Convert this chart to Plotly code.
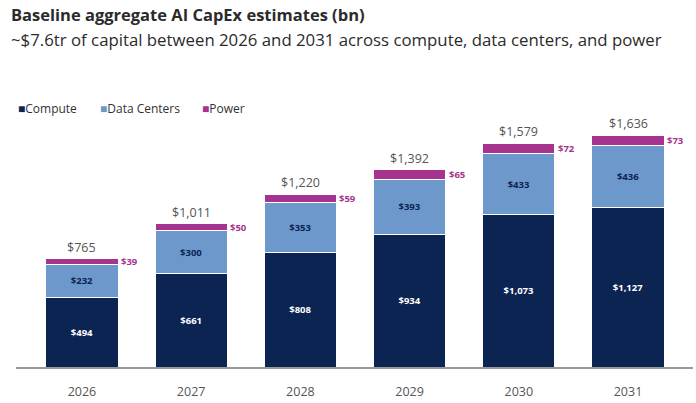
import plotly.graph_objects as go

years = ["2026", "2027", "2028", "2029", "2030", "2031"]
compute = [494, 661, 808, 934, 1073, 1127]
data_centers = [232, 300, 353, 393, 433, 436]
power = [39, 50, 59, 65, 72, 73]
totals = [765, 1011, 1220, 1392, 1579, 1636]
series_names = ["Compute", "Data Centers", "Power"]

C_COMPUTE = "#0b2452"
C_DC = "#6d98cb"
C_POWER = "#a6338d"
FONT = "Open Sans"

def money(v):
    return "$" + format(v, ",")

fig = go.Figure()
fig.add_trace(go.Bar(
    x=years, y=compute, name=series_names[0], marker=dict(color=C_COMPUTE, line=dict(color="white", width=1)),
    text=[money(v) for v in compute], textposition="inside", insidetextanchor="middle",
    textfont=dict(color="white", size=9.5, family=FONT, weight="bold"), width=0.66,
))
fig.add_trace(go.Bar(
    x=years, y=data_centers, name=series_names[1], marker=dict(color=C_DC, line=dict(color="white", width=1)),
    text=[money(v) for v in data_centers], textposition="inside", insidetextanchor="middle",
    textfont=dict(color=C_COMPUTE, size=9.5, family=FONT, weight="bold"), width=0.66,
))
fig.add_trace(go.Bar(
    x=years, y=power, name=series_names[2], marker=dict(color=C_POWER, line=dict(color="white", width=1)),
    width=0.66,
))

W, H = 696, 403
ML, MR, MT = 16, 3, 112
MB = H - 369
pw, ph = W - ML - MR, H - MT - MB

def px_x(x):
    return (x - ML) / pw

def px_y(y):
    return 1 - (y - MT) / ph

annotations = []
for i, yr in enumerate(years):
    annotations.append(dict(
        x=i, y=totals[i], xref="x", yref="y", text=money(totals[i]), showarrow=False,
        yanchor="bottom", yshift=1, font=dict(size=12.5, color="#555555", family=FONT),
    ))
    annotations.append(dict(
        x=i, y=compute[i] + data_centers[i] + power[i] / 2, xref="x", yref="y",
        text=money(power[i]), showarrow=False, xanchor="left", xshift=37,
        font=dict(size=9.5, color=C_POWER, family=FONT, weight="bold"),
    ))

annotations.append(dict(
    x=px_x(9), y=px_y(14), xref="paper", yref="paper", text="<b>Baseline aggregate AI CapEx estimates (bn)</b>",
    showarrow=False, xanchor="left", yanchor="middle",
    font=dict(size=16.5, color="#2b2b2b", family=FONT),
))
annotations.append(dict(
    x=px_x(9), y=px_y(39), xref="paper", yref="paper",
    text="~$7.6tr of capital between 2026 and 2031 across compute, data centers, and power",
    showarrow=False, xanchor="left", yanchor="middle",
    font=dict(size=16.8, color="#2b2b2b", family=FONT),
))

legend_cols = [C_COMPUTE, C_DC, C_POWER]
legend_x = [16, 98, 200]
for name, col, lx in zip(series_names, legend_cols, legend_x):
    annotations.append(dict(
        x=px_x(lx), y=px_y(108), xref="paper", yref="paper",
        text=f"<span style='color:{col}'>■</span>{name}",
        showarrow=False, xanchor="left", yanchor="middle",
        font=dict(size=12, color="#333333", family=FONT),
    ))

fig.update_layout(
    width=W, height=H, barmode="stack", bargap=0.34,
    margin=dict(l=ML, r=MR, t=MT, b=MB),
    paper_bgcolor="white", plot_bgcolor="white",
    font=dict(family=FONT, color="#444444"),
    showlegend=False,
    xaxis=dict(
        type="category", range=[-0.604, 5.595], showgrid=False, showline=True,
        linecolor="#999999", linewidth=1.5, ticks="", ticklabelstandoff=12,
        tickfont=dict(size=12.5, color="#555555", family=FONT),
    ),
    yaxis=dict(range=[0, 1800], visible=False, showgrid=False, zeroline=False),
    annotations=annotations,
    uniformtext=dict(minsize=8, mode="show"),
)

fig.write_html("out.html", config={"displayModeBar": False},
               post_script="document.body.style.margin='0px';")
